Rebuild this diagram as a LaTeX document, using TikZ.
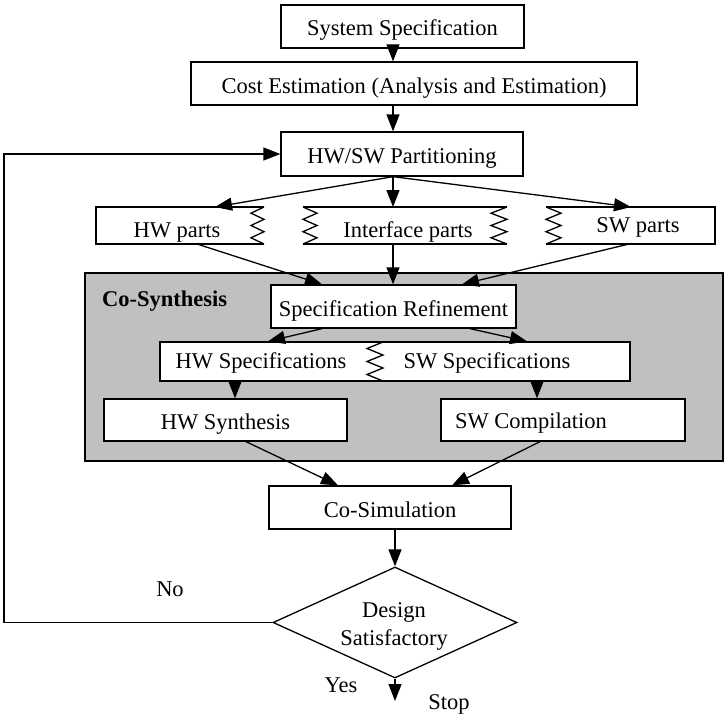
\documentclass[tikz,border=0pt]{standalone}
\usepackage{fontspec}
\setmainfont{Liberation Serif}
\usetikzlibrary{arrows.meta,shapes.geometric,calc}
\begin{document}
\begin{tikzpicture}[x=1pt,y=-1pt,
  every node/.style={font=\fontsize{22.5}{27}\selectfont, inner sep=0pt},
  box/.style={draw, fill=white, line width=1.3pt, text height=19pt, text depth=0pt},
  lbl/.style={text height=15pt, text depth=0pt},
  arr/.style={-{Triangle[length=17pt,width=13pt]}, line width=1.3pt},
  zz/.style={line width=1.3pt, line join=miter}
]
\useasboundingbox (0,0) rectangle (725,717);
\definecolor{cogray}{RGB}{192,192,192}

% top boxes
\node[box, minimum width=243pt, minimum height=43pt] (sys) at (402.5,26.5) {System Specification};
\node[box, minimum width=446pt, minimum height=43pt] (cost) at (414,83.5) {Cost Estimation (Analysis and Estimation)};
\node[box, minimum width=242pt, minimum height=44pt] (part) at (402,154) {HW/SW Partitioning};
\coordinate (ax) at (393,0);

\draw[arr] (sys.south -| ax) -- (cost.north -| ax);
\draw[arr] (cost.south -| ax) -- (part.north -| ax);

% parts row
\draw[zz] (264,207) -- (96,207) -- (96,244) -- (264,244);
\draw[zz] (264,207) -- (251,213.2) -- (264,219.3) -- (251,225.5) -- (264,231.7) -- (251,237.8) -- (264,244);
\draw[zz] (303,207) -- (507,207);
\draw[zz] (303,244) -- (507,244);
\draw[zz] (303,207) -- (317,213.2) -- (303,219.3) -- (317,225.5) -- (303,231.7) -- (317,237.8) -- (303,244);
\draw[zz] (507,207) -- (491,213.2) -- (507,219.3) -- (491,225.5) -- (507,231.7) -- (491,237.8) -- (507,244);
\draw[zz] (546,207) -- (715,207) -- (715,244) -- (546,244);
\draw[zz] (546,207) -- (561,213.2) -- (546,219.3) -- (561,225.5) -- (546,231.7) -- (561,237.8) -- (546,244);
\node[lbl] (hwp) at (177,230) {HW parts};
\node[lbl] (ifp) at (408,230) {Interface parts};
\node[lbl] (swp) at (638,225) {SW parts};
\coordinate (hwpt) at (215,207);
\coordinate (ifpt) at (393,207);
\coordinate (swpt) at (631,207);
\coordinate (hwpb) at (197,244);
\coordinate (ifpb) at (393,244);
\coordinate (swpb) at (629,244);

\draw[arr] (part.south -| ax) -- (hwpt);
\draw[arr] (part.south -| ax) -- (ifpt);
\draw[arr] (part.south -| ax) -- (swpt);

% co-synthesis region
\node[draw, fill=cogray, line width=1.3pt, minimum width=638pt, minimum height=188pt] (cosynbox) at (404,367) {};
\node[font=\fontsize{22.5}{27}\selectfont\bfseries, anchor=west, lbl] (cosyn) at (102,299) {Co-Synthesis};

\node[box, minimum width=245pt, minimum height=43pt] (ref) at (393.5,306.5) {Specification Refinement};
\draw[arr] (hwpb) -- (ref.north -| 322,0);
\draw[arr] (ifpb) -- (ref.north -| ifpb);
\draw[arr] (swpb) -- (ref.north -| 462,0);

\node[box, minimum width=470pt, minimum height=39pt] (spec) at (395,361.5) {};
\draw[zz] (383,342) -- (367,348.5) -- (383,355) -- (367,361.5) -- (383,368) -- (367,374.5) -- (383,381);
\node[lbl] (hwspec) at (261,361) {HW Specifications};
\node[lbl] (swspec) at (487,361) {SW Specifications};

\draw[arr] (ref.south -| 322,0) -- (spec.north -| 268,0);
\draw[arr] (ref.south -| 470,0) -- (spec.north -| 527,0);

\node[box, minimum width=243pt, minimum height=42pt] (hws) at (225.5,420) {HW Synthesis};
\node[box, minimum width=244pt, minimum height=42pt] (swc) at (563,420) {};
\node[lbl] (swct) at (531,421) {SW Compilation};

\draw[arr] (spec.south -| 235,0) -- (hws.north -| 235,0);
\draw[arr] (spec.south -| 537,0) -- (swc.north -| 537,0);

% co-simulation
\node[box, minimum width=242pt, minimum height=43pt] (cosim) at (390,507.5) {Co-Simulation};
\draw[arr] (hws.south -| 246,0) -- (cosim.north -| 338,0);
\draw[arr] (swc.south -| 540,0) -- (cosim.north -| 452,0);

% decision
\node[draw, diamond, line width=1.3pt, fill=white, minimum width=244pt, minimum height=111pt] (dia) at (395,622.5) {};
\node[lbl] (dia1) at (394,610) {Design};
\node[lbl] (dia2) at (394,638) {Satisfactory};
\draw[arr] (cosim.south -| dia.north) -- (dia.north);
\coordinate (stopend) at (395,701);
\draw[arr] (dia.south) -- (stopend);

\coordinate (fbl) at (4,622.5);
\draw[arr] (dia.west) -- (fbl) -- (fbl |- part.west) -- (part.west);

\node[lbl] (no) at (170,589) {No};
\node[lbl] (yes) at (341,685) {Yes};
\node[lbl] (stop) at (449,702) {Stop};
\end{tikzpicture}
\end{document}
